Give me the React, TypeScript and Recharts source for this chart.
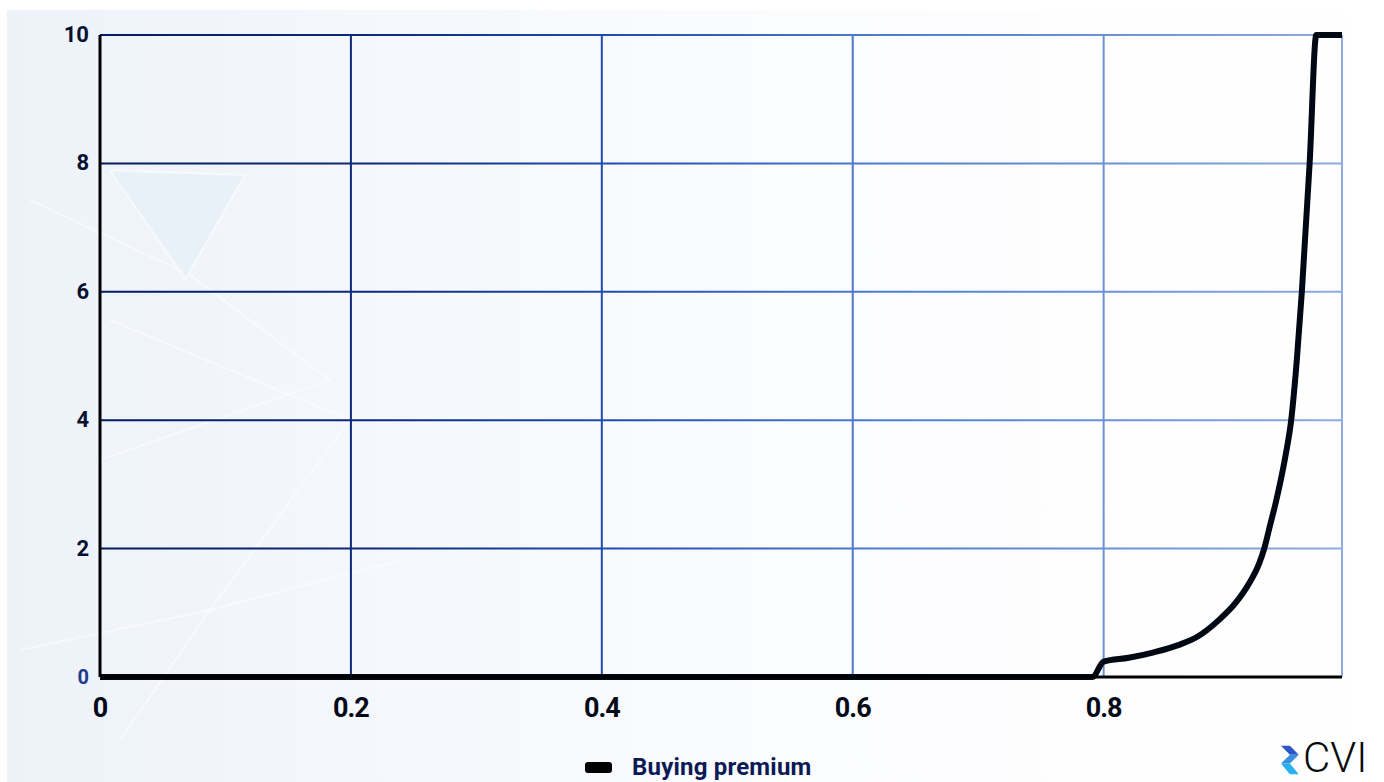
import { CartesianGrid, Line, LineChart, XAxis, YAxis } from "recharts";

// utilisation ratio vs buying premium
const utilisation = [0, 0.791, 0.8, 0.82, 0.84, 0.86, 0.875, 0.892, 0.905, 0.916, 0.924, 0.928, 0.933, 0.937, 0.941, 0.945, 0.9495, 0.954, 0.958, 0.9642, 0.9695, 0.99];
const premium = [0, 0, 0.24, 0.3, 0.385, 0.5, 0.63, 0.89, 1.15, 1.46, 1.77, 2.0, 2.39, 2.7, 3.05, 3.45, 4.0, 4.94, 6.0, 8.0, 10, 10];
const xTicks = [0, 0.2, 0.4, 0.6, 0.8];
const yTicks = [0, 2, 4, 6, 8, 10];
const seriesName = "Buying premium";

const data = utilisation.map((x, i) => ({ x, premium: premium[i] }));

const font = "Roboto, 'Noto Sans', sans-serif";

function YTick(props: any) {
  const { x, y, payload } = props;
  const isZero = payload.value === 0;
  return (
    <text
      x={x - 3}
      y={y}
      dy={7}
      textAnchor="end"
      fontFamily={font}
      fontWeight={700}
      fontSize={isZero ? 20 : 22}
      fill={isZero ? "#1d3a8f" : "#08112e"}
    >
      {payload.value}
    </text>
  );
}

function XTick(props: any) {
  const { x, y, payload } = props;
  return (
    <text
      x={x}
      y={y}
      dy={32}
      textAnchor="middle"
      fontFamily={font}
      fontWeight={700}
      fontSize={27}
      letterSpacing={-1}
      fill="#050a18"
    >
      {payload.value}
    </text>
  );
}

function CviLogo() {
  return (
    <>
      <svg width={24} height={32} viewBox="0 0 26 36" style={{ position: "absolute", left: 1277, top: 744 }}>
        <polygon points="4,2 14,2 24,12 14,12" fill="#2a56c6" />
        <polygon points="14,12 24,12 14,22 4,22" fill="#3a8fe0" />
        <polygon points="4,22 14,22 24,34 14,34" fill="#2ab0ec" />
      </svg>
      <span
        style={{
          position: "absolute",
          left: 1303,
          top: 737,
          fontFamily: font,
          fontWeight: 300,
          fontSize: 42,
          lineHeight: "42px",
          color: "#0a0a0a",
          whiteSpace: "nowrap",
        }}
      >
        CVI
      </span>
    </>
  );
}

export default function App() {
  return (
    <div
      style={{
        position: "fixed",
        left: 0,
        top: 0,
        width: 1384,
        height: 782,
        background: "#ffffff",
        overflow: "hidden",
      }}
    >
      <div
        style={{
          position: "absolute",
          left: 7,
          top: 10,
          width: 1377,
          height: 772,
          background: "linear-gradient(90deg, #edf2f9 0%, #f4f7fc 25%, #fbfcfe 55%, #ffffff 100%)",
        }}
      />
      <svg width={1384} height={782} style={{ position: "absolute", left: 0, top: 0 }}>
        <g stroke="#ffffff" strokeWidth={2} fill="none" opacity={0.5}>
          <polyline points="110,170 245,175 185,280 110,170" />
          <polyline points="120,740 210,610 350,420 110,320" />
          <polyline points="30,200 190,275 330,380 100,460" />
          <polyline points="20,650 210,610 400,560" />
        </g>
        <polygon points="112,172 243,176 186,276" fill="#e3ecf7" opacity={0.6} />
      </svg>
      <div style={{ position: "absolute", left: 0, top: 0 }}>
        <LineChart width={1384} height={782} data={data} margin={{ top: 35, right: 42, left: 0, bottom: 65 }}>
          <defs>
            <linearGradient id="gridGrad" gradientUnits="userSpaceOnUse" x1={100} y1={0} x2={1342} y2={0}>
              <stop offset="0%" stopColor="#071a5e" />
              <stop offset="22%" stopColor="#0c2a7e" />
              <stop offset="42%" stopColor="#1f4fb0" />
              <stop offset="62%" stopColor="#4d7bcc" />
              <stop offset="82%" stopColor="#6d93d6" />
              <stop offset="100%" stopColor="#8fabdf" />
            </linearGradient>
          </defs>
          <CartesianGrid stroke="url(#gridGrad)" strokeWidth={2} />
          <XAxis
            dataKey="x"
            type="number"
            domain={[0, 0.99]}
            ticks={xTicks}
            height={40}
            axisLine={{ stroke: "#000000", strokeWidth: 3 }}
            tickLine={false}
            tick={<XTick />}
            interval={0}
          />
          <YAxis
            domain={[0, 10]}
            ticks={yTicks}
            width={100}
            axisLine={{ stroke: "#000000", strokeWidth: 3 }}
            tickLine={false}
            tick={<YTick />}
            interval={0}
          />
          <Line
            type="monotone"
            dataKey="premium"
            name={seriesName}
            stroke="#000814"
            strokeWidth={6}
            dot={false}
            isAnimationActive={false}
          />
        </LineChart>
      </div>
      <div style={{ position: "absolute", left: 585, top: 753, height: 28, display: "flex", alignItems: "center" }}>
        <div style={{ width: 27, height: 11, borderRadius: 3, background: "#000000" }} />
        <span style={{ fontFamily: font, fontWeight: 700, fontSize: 24, lineHeight: "28px", color: "#0b1a55", marginLeft: 20, letterSpacing: 0.2 }}>
          {seriesName}
        </span>
      </div>
      <CviLogo />
    </div>
  );
}
